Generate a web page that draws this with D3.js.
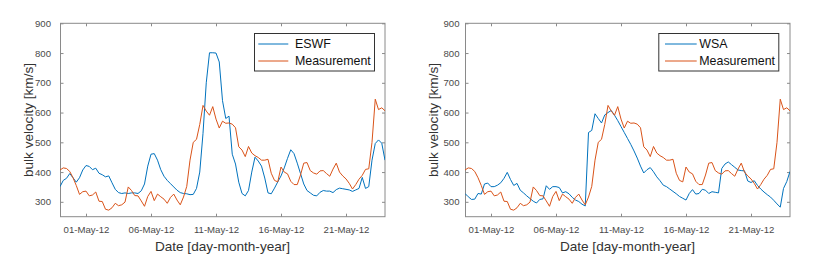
<!DOCTYPE html>
<html>
<head>
<meta charset="utf-8">
<script src="https://cdn.jsdelivr.net/npm/d3@7/dist/d3.min.js"></script>
<style>
html,body{margin:0;padding:0;background:#fff;}
svg{display:block;font-family:Arial,"Liberation Sans",Helvetica,sans-serif;}
</style>
</head>
<body>
<svg id="chart" width="822" height="264"></svg>
<script>
// ---- data (6-hourly samples starting 29-Apr-2012 00:00 UTC) ----
const startDate = Date.UTC(2012, 3, 29);
const stepHours = 6;
const measurement = [407,414,412,402,381,355,325,334,336,320,323,333,302,301,275,272,280,295,287,290,
  299,350,338,321,320,303,285,318,335,304,326,317,309,295,315,326,306,290,316,352,
  440,500,510,560,624,605,591,620,578,548,571,564,565,561,549,485,474,452,486,464,
  455,449,440,440,443,396,372,367,417,400,394,369,358,358,390,430,432,405,397,393,
  404,405,395,386,410,430,400,387,377,362,343,358,376,389,409,411,500,645,610,616,606];
const eswf = [351,372,379,395,381,366,381,407,422,419,408,413,396,391,384,387,364,342,331,328,
  330,328,330,330,328,337,360,420,460,462,440,408,386,372,361,350,339,331,328,327,
  324,325,345,400,530,700,801,801,800,770,640,580,588,460,427,366,328,320,338,400,
  450,437,420,380,330,327,346,367,387,414,446,475,462,430,395,360,338,330,322,320,
  332,338,336,336,331,341,346,344,342,340,335,340,345,382,345,351,440,496,508,497,440];
const wsa = [328,317,308,309,328,326,360,363,351,351,356,364,379,399,375,355,362,339,330,320,
  311,302,296,308,310,354,342,351,351,348,330,334,327,315,306,301,292,286,533,540,
  596,580,565,592,600,607,591,573,553,533,513,493,471,447,420,397,408,415,401,384,
  371,356,351,343,335,327,318,312,306,328,341,326,328,342,339,328,334,332,330,412,
  427,434,425,416,407,405,404,370,365,371,355,343,333,324,316,305,293,282,345,368,402];
const yTicks = [300,400,500,600,700,800,900];
const yDomain = [250, 900];
const xDomain = [new Date(Date.UTC(2012,3,29)), new Date(Date.UTC(2012,4,24))];
const xTickDates = [1,6,11,16,21].map(d => new Date(Date.UTC(2012,4,d)));
const panels = [
  {name:"ESWF", values: eswf, left:60, yLabelEnd:50.5, yTitleX:28.3, legX:254, legLine:[258.3,288.3], legText:295},
  {name:"WSA",  values: wsa,  left:465, yLabelEnd:459, yTitleX:433.3, legX:658.3, legLine:[665,696.7], legText:699.3}
];
const measName = "Measurement";

// ---- drawing ----
const svg = d3.select("#chart");
const W = 325, plotTop = 23.3, plotBottom = 216.7;
const blue = "#0072BD", orange = "#D95319";
const fmt = d3.utcFormat("%d-%b-%y");
const toDate = i => new Date(startDate + i*stepHours*3600*1000);

panels.forEach((p, k) => {
  const x = d3.scaleUtc().domain(xDomain).range([p.left, p.left + W]);
  const y = d3.scaleLinear().domain(yDomain).range([plotBottom, plotTop]);
  const g = svg.append("g");

  const cid = "clip" + k;
  svg.append("clipPath").attr("id", cid).append("rect")
    .attr("x", p.left).attr("y", plotTop).attr("width", W).attr("height", plotBottom - plotTop);

  g.append("rect").attr("x", p.left + 0.5).attr("y", plotTop).attr("width", W - 0.5).attr("height", plotBottom - plotTop)
    .attr("fill", "none").attr("stroke", "#8a8a8a").attr("stroke-width", 1);

  const xb = d3.axisBottom(x).tickValues(xTickDates).tickFormat(fmt).tickSizeInner(-3).tickSizeOuter(0).tickPadding(9);
  const gx = g.append("g").attr("transform", `translate(0,${plotBottom})`).call(xb);
  const xt = d3.axisTop(x).tickValues(xTickDates).tickFormat("").tickSizeInner(-3).tickSizeOuter(0);
  const gxt = g.append("g").attr("transform", `translate(0,${plotTop})`).call(xt);
  const yl = d3.axisLeft(y).tickValues(yTicks).tickSizeInner(-3).tickSizeOuter(0).tickPadding(p.left - p.yLabelEnd);
  const gy = g.append("g").attr("transform", `translate(${p.left + 0.5},0)`).call(yl);
  const yr = d3.axisRight(y).tickValues(yTicks).tickFormat("").tickSizeInner(-3).tickSizeOuter(0);
  const gyr = g.append("g").attr("transform", `translate(${p.left + W},0)`).call(yr);
  [gx, gxt, gy, gyr].forEach(a => {
    a.select(".domain").remove();
    a.selectAll(".tick line").attr("stroke", "#8a8a8a");
    a.selectAll(".tick text").attr("fill", "#4a4a4a").style("font-size", "9.6px")
      .style("font-family", "Arial, 'Liberation Sans', sans-serif");
  });

  const line = d3.line().x((d, i) => x(toDate(i))).y(d => y(d));
  g.append("path").datum(p.values).attr("d", line).attr("fill", "none")
    .attr("stroke", blue).attr("stroke-width", 1).attr("clip-path", `url(#${cid})`);
  g.append("path").datum(measurement).attr("d", line).attr("fill", "none")
    .attr("stroke", orange).attr("stroke-width", 1).attr("clip-path", `url(#${cid})`);

  g.append("text").attr("x", p.left + W/2).attr("y", 250.5).attr("text-anchor", "middle")
    .attr("fill", "#333").style("font-size", "13.6px").text("Date [day-month-year]");
  g.append("text").attr("transform", `translate(${p.yTitleX},${(plotTop + plotBottom)/2}) rotate(-90)`)
    .attr("text-anchor", "middle").attr("dominant-baseline", "central")
    .attr("fill", "#333").style("font-size", "13.6px").text("bulk velocity [km/s]");

  g.append("rect").attr("x", p.legX + 0.5).attr("y", 33.5).attr("width", 120).attr("height", 37.5)
    .attr("fill", "#fff").attr("stroke", "#333").attr("stroke-width", 1);
  [[p.name, blue, 44], [measName, orange, 61]].forEach(([t, c, yy]) => {
    g.append("line").attr("x1", p.legLine[0]).attr("x2", p.legLine[1]).attr("y1", yy).attr("y2", yy)
      .attr("stroke", c).attr("stroke-width", 1);
    g.append("text").attr("x", p.legText).attr("y", yy + 4.4).attr("fill", "#111")
      .style("font-size", "12.4px").text(t);
  });
});
</script>
</body>
</html>
